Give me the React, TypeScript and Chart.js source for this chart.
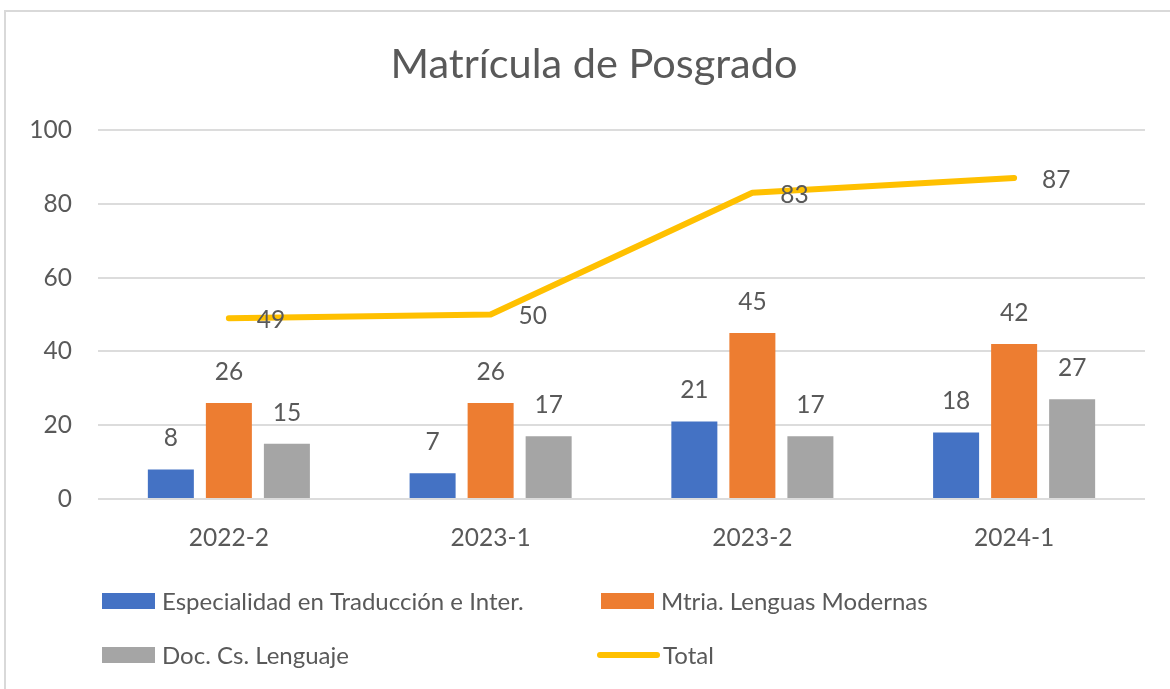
import React, { useEffect, useRef } from "react";
import { Chart, registerables } from "chart.js";

Chart.register(...registerables);

const categories = ["2022-2", "2023-1", "2023-2", "2024-1"];
const especialidad = [8, 7, 21, 18];
const maestria = [26, 26, 45, 42];
const doctorado = [15, 17, 17, 27];
const total = [49, 50, 83, 87];
const yTicks = [0, 20, 40, 60, 80, 100];

const seriesNames = [
  "Especialidad en Traducción e Inter.",
  "Mtria. Lenguas Modernas",
  "Doc. Cs. Lenguaje",
  "Total",
];
const titleText = "Matrícula de Posgrado";

const FONT = "Lato, 'Open Sans', sans-serif";
const TEXT = "#595959";

const framePlugin = {
  id: "frame",
  beforeDraw(chart: any) {
    const ctx = chart.ctx;
    ctx.save();
    ctx.fillStyle = "#ffffff";
    ctx.fillRect(0, 0, chart.width, chart.height);
    ctx.strokeStyle = "#d9d9d9";
    ctx.lineWidth = 2;
    ctx.strokeRect(5, 11, chart.width + 20, chart.height + 20);
    ctx.restore();
  },
};

const labelPlugin = {
  id: "valueLabels",
  afterDatasetsDraw(chart: any) {
    const ctx = chart.ctx;
    ctx.save();
    ctx.fillStyle = TEXT;
    ctx.font = `24.5px ${FONT}`;
    ctx.textAlign = "center";
    ctx.textBaseline = "middle";
    chart.data.datasets.forEach((ds: any, i: number) => {
      const meta = chart.getDatasetMeta(i);
      meta.data.forEach((el: any, j: number) => {
        const v = ds.data[j];
        if (ds.type === "line") {
          ctx.fillText(String(v), el.x + 42, el.y + 2);
        } else {
          ctx.fillText(String(v), el.x, el.y - 31);
        }
      });
    });
    // title
    ctx.font = `41.5px ${FONT}`;
    ctx.fillText(titleText, 594, 65);
    // legend
    ctx.font = `24px ${FONT}`;
    ctx.textAlign = "left";
    const colors = ["#4472C4", "#ED7D31", "#A5A5A5"];
    const pos = [
      [102, 601],
      [601, 601],
      [102, 655],
    ];
    for (let k = 0; k < 3; k++) {
      const [x, y] = pos[k];
      ctx.fillStyle = colors[k];
      ctx.fillRect(x, y - 8, 53, 16);
      ctx.fillStyle = TEXT;
      ctx.fillText(seriesNames[k], x + 60, y + 1);
    }
    ctx.strokeStyle = "#FFC000";
    ctx.lineWidth = 6;
    ctx.lineCap = "round";
    ctx.beginPath();
    ctx.moveTo(600, 655);
    ctx.lineTo(657, 655);
    ctx.stroke();
    ctx.fillStyle = TEXT;
    ctx.fillText(seriesNames[3], 663, 656);
    ctx.restore();
  },
};

export default function App() {
  const ref = useRef<HTMLCanvasElement>(null);
  useEffect(() => {
    if (!ref.current) return;
    const chart = new Chart(ref.current, {
      type: "bar",
      data: {
        labels: categories,
        datasets: [
          {
            type: "line",
            label: seriesNames[3],
            data: total,
            borderColor: "#FFC000",
            backgroundColor: "#FFC000",
            borderWidth: 6,
            pointRadius: 0,
            tension: 0,
            borderCapStyle: "round",
            borderJoinStyle: "round",
            order: 0,
          } as any,
          {
            label: seriesNames[0],
            data: especialidad,
            backgroundColor: "#4472C4",
            order: 1,
          },
          {
            label: seriesNames[1],
            data: maestria,
            backgroundColor: "#ED7D31",
            order: 1,
          },
          {
            label: seriesNames[2],
            data: doctorado,
            backgroundColor: "#A5A5A5",
            order: 1,
          },
        ],
      },
      options: {
        responsive: false,
        animation: false,
        datasets: {
          bar: { categoryPercentage: 0.665, barPercentage: 0.793 },
        },
        layout: { padding: { top: 130, right: 25, bottom: 130, left: 0 } },
        plugins: {
          legend: { display: false },
          title: { display: false },
          tooltip: { enabled: false },
        },
        scales: {
          x: {
            grid: { display: false, drawTicks: false },
            border: { display: false },
            ticks: { color: TEXT, font: { family: FONT, size: 24.5 }, padding: 24 },
            afterFit: (s: any) => {
              s.height = 60;
            },
          },
          y: {
            min: 0,
            max: 100,
            afterBuildTicks: (s: any) => {
              s.ticks = yTicks.map((v) => ({ value: v }));
            },
            grid: { color: "#dcdcdc", lineWidth: 2, drawTicks: false },
            border: { display: false },
            ticks: { color: TEXT, font: { family: FONT, size: 24.5 }, padding: 26 },
            afterFit: (s: any) => {
              s.width = 98;
            },
          },
        },
      },
      plugins: [framePlugin, labelPlugin],
    });
    return () => chart.destroy();
  }, []);
  return (
    <div style={{ position: "absolute", left: 0, top: 0, width: 1170, height: 689 }}>
      <canvas ref={ref} width={1170} height={689} style={{ display: "block" }} />
    </div>
  );
}
